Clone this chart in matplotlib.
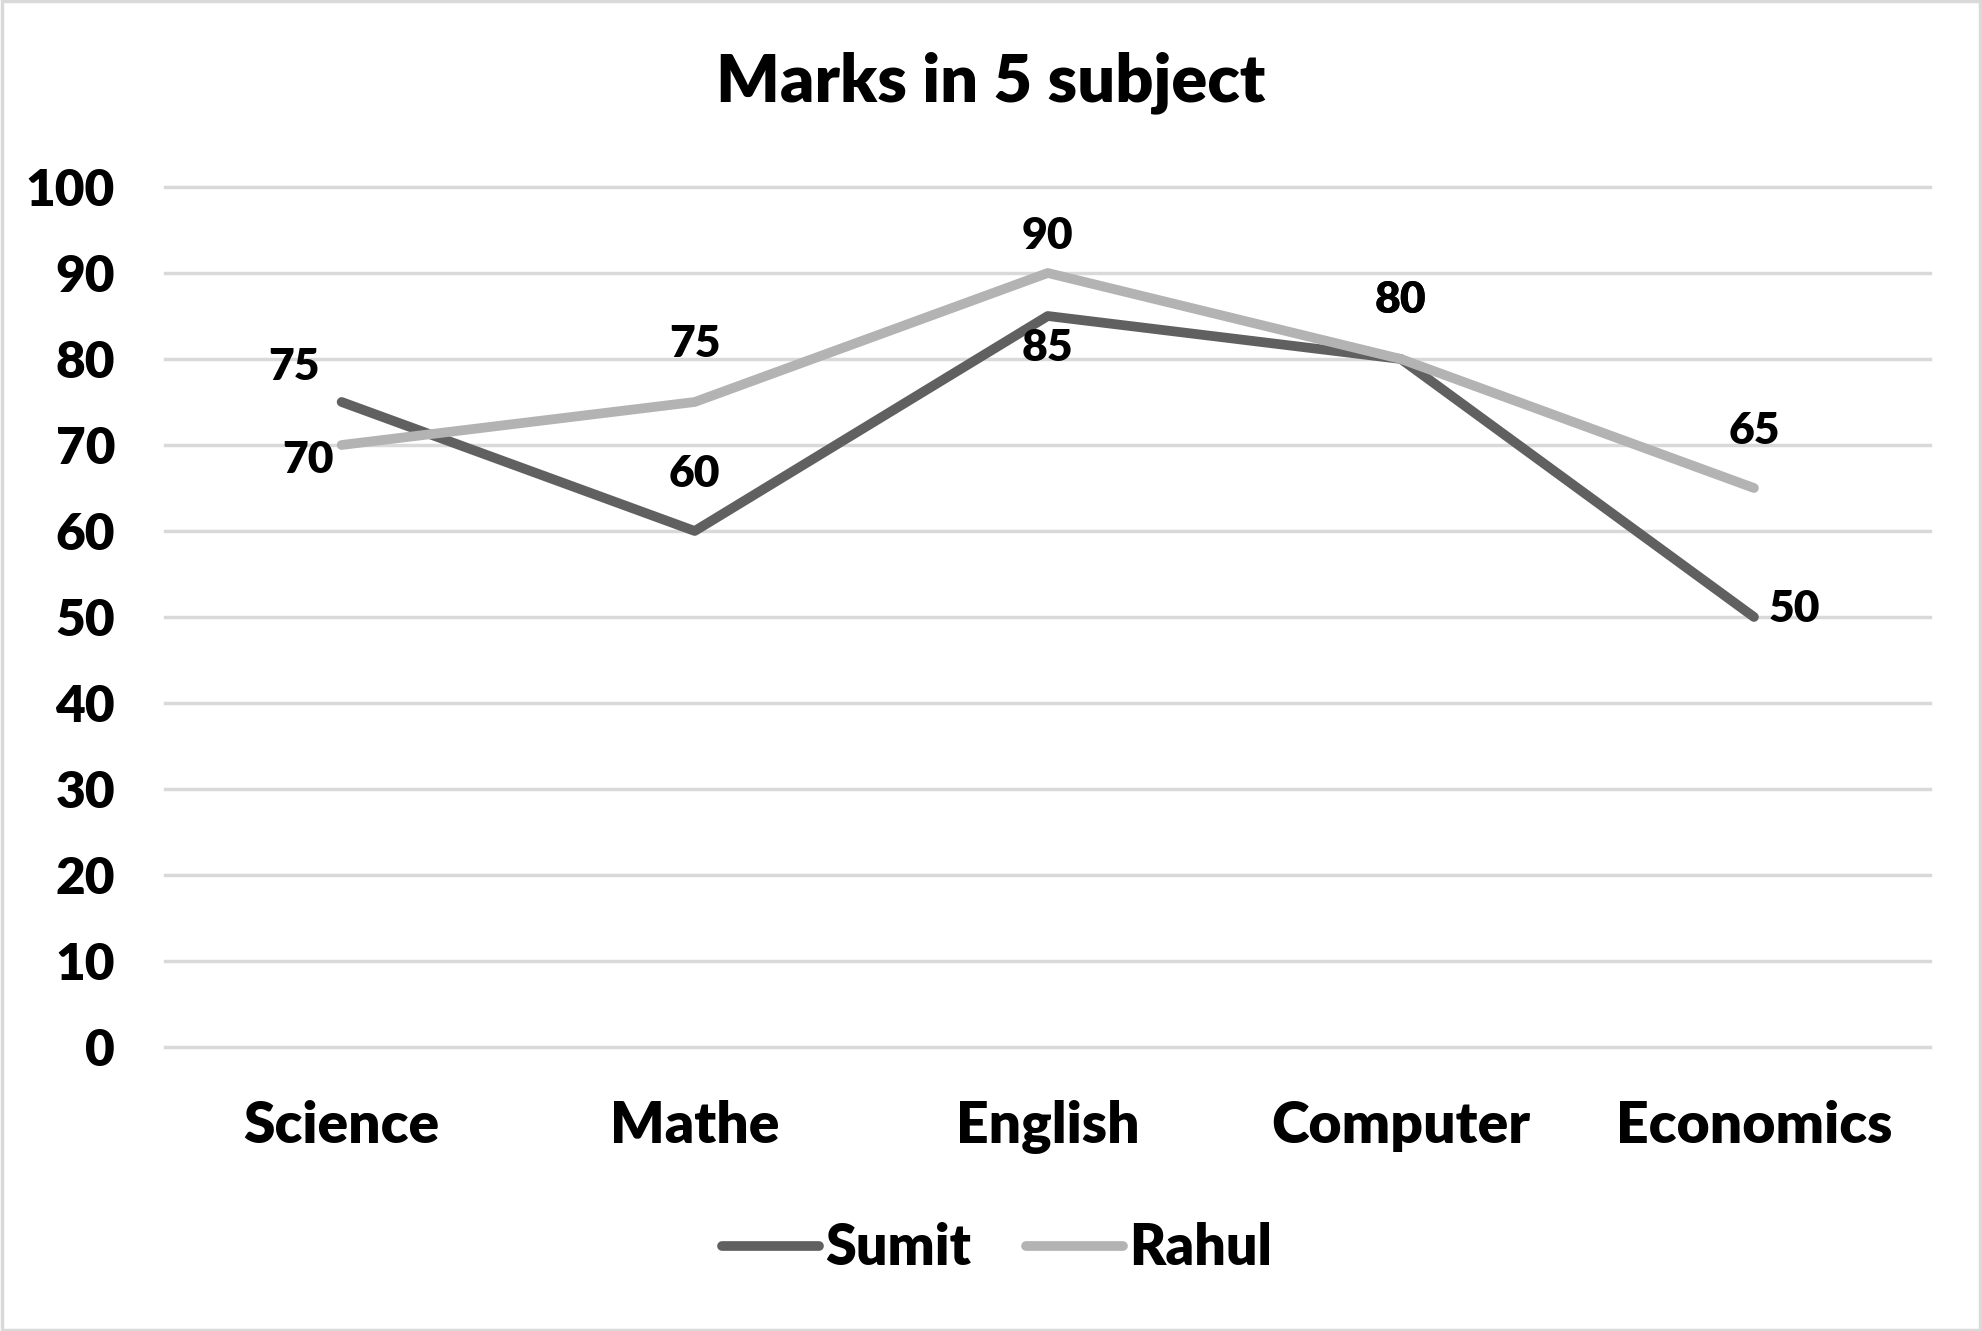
import matplotlib

matplotlib.use("Agg")
import matplotlib.pyplot as plt  # noqa: E402
from matplotlib.patches import Rectangle  # noqa: E402

subjects = ["Science", "Mathe", "English", "Computer", "Economics"]
sumit = [75, 60, 85, 80, 50]
rahul = [70, 75, 90, 80, 65]
y_ticks = list(range(0, 101, 10))

# label offsets in pixels (dx, dy)
SUMIT_OFF = [(-48, 35), (0, 57), (0, -32), (0, 59), (40, 8)]
RAHUL_OFF = [(-34, -15), (0, 58), (0, 37), (0, 59), (0, 57)]

W = "heavy"
plt.rcParams["font.family"] = ["Lato", "DejaVu Sans"]
plt.rcParams["font.weight"] = W

fig = plt.figure(figsize=(19.82, 13.31), dpi=100)
ax = fig.add_axes([0.0833, 0.2134, 0.974 - 0.0833, 0.8595 - 0.2134])

xs = list(range(len(subjects)))
ax.plot(xs, sumit, color="#606060", lw=7, solid_capstyle="round",
        solid_joinstyle="round", label="Sumit", zorder=3)
ax.plot(xs, rahul, color="#b3b3b3", lw=7, solid_capstyle="round",
        solid_joinstyle="round", label="Rahul", zorder=3)

for vals, offs in ((sumit, SUMIT_OFF), (rahul, RAHUL_OFF)):
    for x, v, (dx, dy) in zip(xs, vals, offs):
        ax.annotate(f"{v}", (x, v), xytext=(dx, dy), textcoords="offset pixels",
                    ha="center", va="center", fontsize=32, fontweight=W)

ax.set_xlim(-0.5, len(subjects) - 0.5)
ax.set_ylim(0, 100)
ax.set_yticks(y_ticks)
ax.set_xticks(xs, subjects)
ax.tick_params(axis="y", length=0, pad=36, labelsize=37)
ax.tick_params(axis="x", length=0, pad=38, labelsize=41)
for lab in ax.get_xticklabels() + ax.get_yticklabels():
    lab.set_fontweight(W)
ax.grid(True, axis="y", color="#d9d9d9", lw=2.5)
for gl in ax.get_ygridlines():
    gl.set_clip_on(False)
ax.set_axisbelow(True)
for s in ax.spines.values():
    s.set_visible(False)

fig.text(0.5, 1 - 83 / 1331, "Marks in 5 subject", ha="center", va="center",
         fontsize=48, fontweight=W)

fig.legend(loc="center", bbox_to_anchor=(0.503, 1 - 1248 / 1331), ncol=2,
           frameon=False, prop={"size": 40, "weight": W}, handlelength=1.75,
           handletextpad=0.1, columnspacing=1.0)

fig.patches.append(Rectangle((0.001, 0.001), 0.998, 0.998, transform=fig.transFigure,
                             fill=False, edgecolor="#d9d9d9", lw=2.5))

fig.savefig("out.png", dpi=100)
